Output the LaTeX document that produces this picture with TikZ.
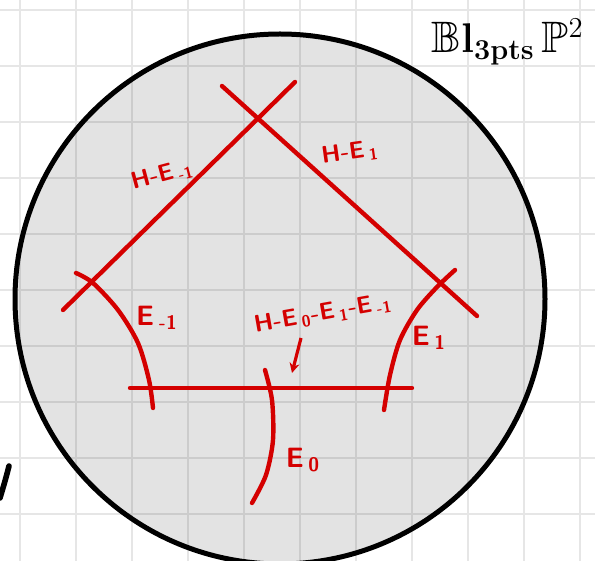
\documentclass[tikz,border=0pt]{standalone}
\usepackage{amsmath,amssymb}
\usepackage{xcolor}
\usepackage{tikz}
\usetikzlibrary{arrows.meta,positioning,calc}
\definecolor{inkred}{RGB}{212,0,0}
\definecolor{gridc}{RGB}{230,230,230}

\begin{document}
\begin{tikzpicture}[x=0.5pt,y=-0.5pt,
  redline/.style={inkred,line width=2.2pt,line cap=round},
  redlab/.style={inkred,font=\sffamily\bfseries\fontsize{12}{14}\selectfont,inner sep=0pt},
  >={Stealth[length=5pt,width=5pt]}]
  \useasboundingbox (0,0) rectangle (595,561);
  % ---- grid paper ----
  \foreach \x in {20,76,...,580}{\draw[gridc,line width=1.4pt] (\x,0)--(\x,561);}
  \foreach \y in {10,66,...,514}{\draw[gridc,line width=1.4pt] (0,\y)--(595,\y);}
  % ---- the disc ----
  \filldraw[fill=black,fill opacity=0.11,line width=2.5pt] (280,299) circle[radius=132.5pt];
  % ---- lines H-E ----
  \draw[redline] (63,310)--(295,82);
  \draw[redline] (222,86)--(477,316);
  \draw[redline] (130,388)--(412,388);
  % ---- exceptional curves ----
  \draw[redline] plot[smooth] coordinates{(76,273)(93,283)(118,310)(138,343)(149,380)(153,408)};
  \draw[redline] plot[smooth] coordinates{(455,270)(437,287)(417,310)(400,340)(390,375)(384,410)};
  \draw[redline] plot[smooth] coordinates{(265,370)(272,400)(273,440)(266,475)(252,503)};
  % ---- labels ----
  \node[redlab,rotate=15] (hem) at (162,175) {H-E\,\textsubscript{-1}};
  \node[redlab,rotate=8] (hep) at (350,153) {H-E\,\textsubscript{1}};
  \node[redlab,rotate=10] (hall) at (323,314) {H-E\,\textsubscript{0}-E\,\textsubscript{1}-E\,\textsubscript{-1}};
  \node[redlab,font=\sffamily\bfseries\fontsize{14}{16}\selectfont] (em) at (157,318) {E\,\textsubscript{-1}};
  \node[redlab,font=\sffamily\bfseries\fontsize{14}{16}\selectfont] (ep) at (429,338) {E\,\textsubscript{1}};
  \node[redlab,font=\sffamily\bfseries\fontsize{14}{16}\selectfont] (ez) at (303,460) {E\,\textsubscript{0}};
  \coordinate (arrtop) at (301,338);
  \coordinate (arrtip) at (292,373);
  \draw[inkred,line width=1.6pt,->] (arrtop)--(arrtip);
  % ---- title ----
  \node[inner sep=0pt,anchor=east] (blp) at (584,42) {\fontsize{22}{24}\selectfont$\mathbb{B}\mathbf{l}_{\mathbf{3pts}}\,\mathbb{P}^{2}$};
  % ---- stray stroke at the left edge ----
  \draw[line width=2.8pt,line cap=round] (9,466) .. controls (6,478) and (3,488) .. (0,498);
\end{tikzpicture}
\end{document}
